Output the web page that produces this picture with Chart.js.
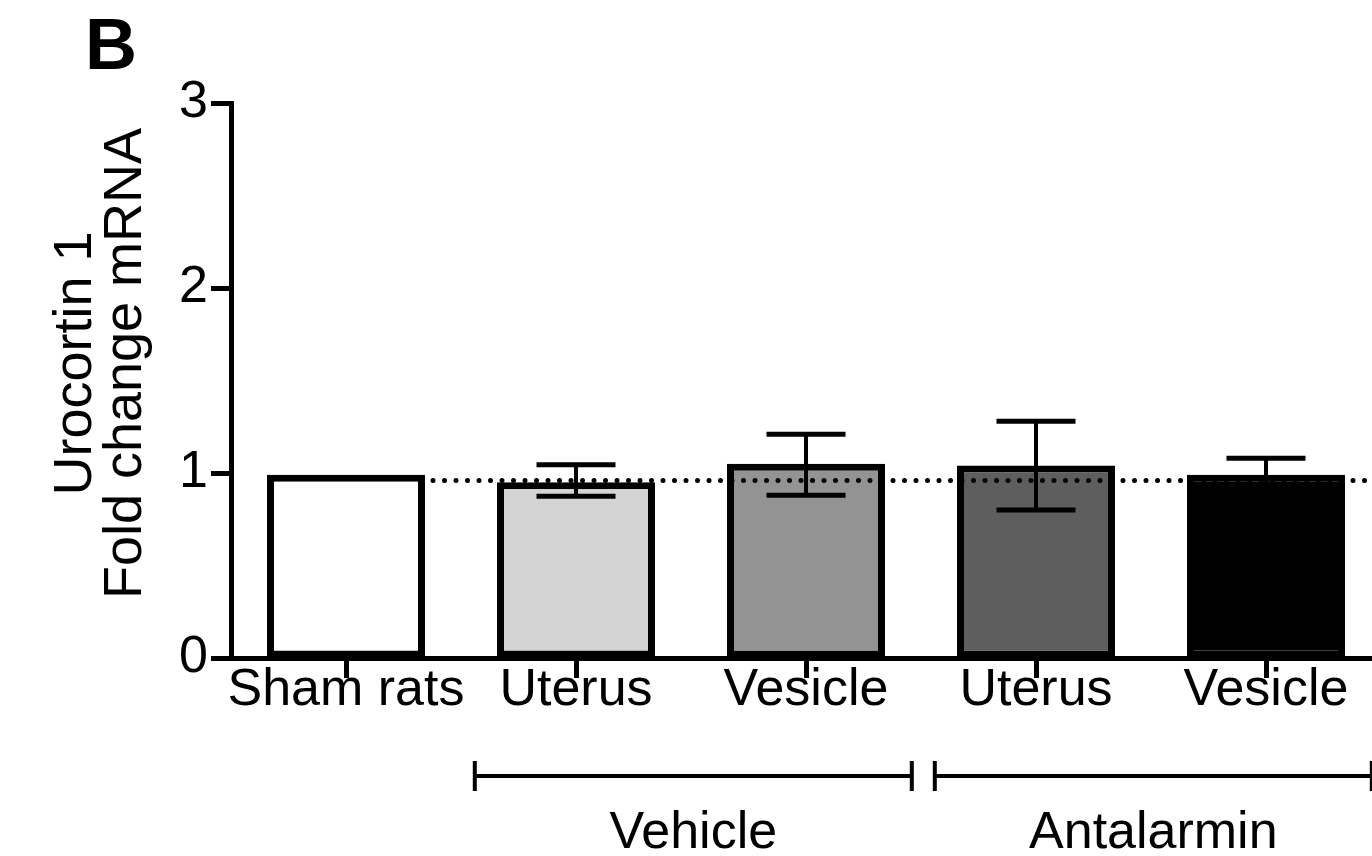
<!DOCTYPE html>
<html><head><meta charset="utf-8">
<script src="https://cdn.jsdelivr.net/npm/chart.js@4.4.0/dist/chart.umd.min.js"></script>
<style>
html,body{margin:0;padding:0;background:#fff;overflow:hidden;width:1372px;height:856px}
#wrap{position:relative;width:1390px;height:856px}
</style>
</head><body><div id="wrap"><canvas id="c" width="1390" height="856"></canvas></div>
<script>
// ---- data ----
const categories = ['Sham rats', 'Uterus', 'Vesicle', 'Uterus', 'Vesicle'];
const foldChange = [0.99, 0.95, 1.05, 1.04, 0.99];
const errUpper = [null, 1.045, 1.21, 1.28, 1.08];
const errLower = [null, 0.875, 0.88, 0.80, 0.90];
const barColors = ['#ffffff', '#d4d4d4', '#939393', '#5e5e5e', '#000000'];
const referenceLevel = 0.96;
const yTicks = [0, 1, 2, 3];
const groupNames = ['Vehicle', 'Antalarmin'];
const groupFirst = [1, 3];
const groupLast = [2, 4];
const yTitle = ['Urocortin 1', 'Fold change mRNA'];
const panelLabel = 'B';

const FONT = '"Liberation Sans", Arial, Helvetica, sans-serif';
const INK = '#000';

const annotations = {
  id: 'annotations',
  afterDatasetsDraw(chart) {
    const ctx = chart.ctx;
    const x = chart.scales.x, y = chart.scales.y;
    const meta = chart.getDatasetMeta(0);
    const area = chart.chartArea;
    ctx.save();
    // dotted reference line
    const yr = y.getPixelForValue(referenceLevel);
    const b0 = meta.data[0];
    ctx.strokeStyle = INK;
    ctx.lineWidth = 5;
    ctx.lineCap = 'round';
    ctx.setLineDash([0, 11.5]);
    ctx.beginPath();
    ctx.moveTo(b0.x + b0.width / 2 + 8, yr);
    ctx.lineTo(area.right, yr);
    ctx.stroke();
    ctx.setLineDash([]);
    // error bars
    ctx.lineCap = 'butt';
    meta.data.forEach((bar, i) => {
      if (errUpper[i] == null) return;
      const yu = y.getPixelForValue(errUpper[i]);
      const yl = y.getPixelForValue(errLower[i]);
      const cw = bar.width * 0.5;
      ctx.lineWidth = 4;
      ctx.beginPath();
      ctx.moveTo(bar.x, yu); ctx.lineTo(bar.x, yl); ctx.stroke();
      ctx.lineWidth = 5;
      ctx.beginPath();
      ctx.moveTo(bar.x - cw / 2, yu); ctx.lineTo(bar.x + cw / 2, yu);
      ctx.moveTo(bar.x - cw / 2, yl); ctx.lineTo(bar.x + cw / 2, yl);
      ctx.stroke();
    });
    // group brackets
    const catW = x.getPixelForValue(1) - x.getPixelForValue(0);
    const by = area.bottom + 118;
    ctx.font = '52px ' + FONT;
    ctx.fillStyle = INK;
    ctx.textAlign = 'center';
    ctx.textBaseline = 'alphabetic';
    groupNames.forEach((name, g) => {
      const x1 = x.getPixelForValue(groupFirst[g]) - 0.44 * catW;
      const x2 = x.getPixelForValue(groupLast[g]) + 0.46 * catW;
      ctx.lineWidth = 4;
      ctx.beginPath();
      ctx.moveTo(x1, by); ctx.lineTo(x2, by);
      ctx.moveTo(x1, by - 15); ctx.lineTo(x1, by + 15);
      ctx.moveTo(x2, by - 15); ctx.lineTo(x2, by + 15);
      ctx.stroke();
      ctx.fillText(name, (x1 + x2) / 2, by + 72);
    });
    // y title
    ctx.font = '54px ' + FONT;
    const cy = (area.top + area.bottom) / 2 - 17;
    yTitle.forEach((t, k) => {
      ctx.save();
      ctx.translate(area.left - 140 + k * 50, cy);
      ctx.rotate(-Math.PI / 2);
      ctx.fillText(t, 0, 0);
      ctx.restore();
    });
    // panel label
    ctx.font = 'bold 72px ' + FONT;
    ctx.textAlign = 'left';
    ctx.fillText(panelLabel, 85, 69);
    ctx.restore();
  }
};

new Chart(document.getElementById('c'), {
  type: 'bar',
  data: {
    labels: categories,
    datasets: [{
      data: foldChange,
      backgroundColor: barColors,
      borderColor: INK,
      borderWidth: 7,
      borderSkipped: false,
      categoryPercentage: 1,
      barPercentage: 0.687
    }]
  },
  options: {
    responsive: false,
    devicePixelRatio: 1,
    animation: false,
    events: [],
    layout: { padding: { left: 0, top: 103, right: 9, bottom: 0 } },
    plugins: { legend: { display: false }, tooltip: { enabled: false } },
    scales: {
      x: {
        offset: true,
        grid: { display: true, drawOnChartArea: false, drawTicks: true, tickLength: 20, tickWidth: 5, tickColor: INK, offset: false },
        border: { display: true, color: INK, width: 5 },
        ticks: { autoSkip: false, maxRotation: 0, minRotation: 0, padding: -19, color: INK, font: { family: FONT, size: 52 } },
        afterFit(s) { s.height = 198; }
      },
      y: {
        min: 0, max: 3,
        grid: { display: true, drawOnChartArea: false, drawTicks: true, tickLength: 20, tickWidth: 5, tickColor: INK },
        border: { display: true, color: INK, width: 5 },
        ticks: { padding: 3, color: INK, font: { family: FONT, size: 52 } },
        afterBuildTicks(s) { s.ticks = yTicks.map(v => ({ value: v })); },
        afterFit(s) { s.width = 231; }
      }
    }
  },
  plugins: [annotations]
});
</script>
</body></html>
